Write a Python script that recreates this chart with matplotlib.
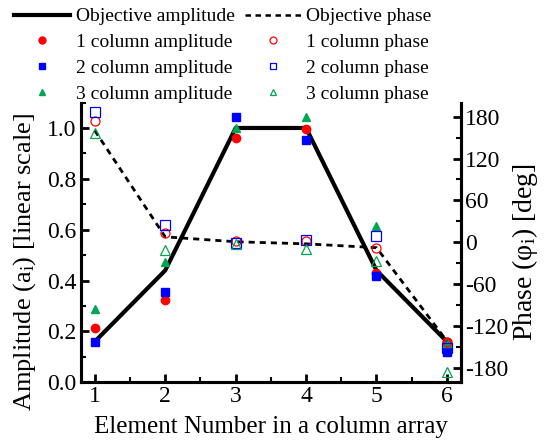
import matplotlib
matplotlib.use("Agg")
import matplotlib.pyplot as plt
from matplotlib.lines import Line2D
from matplotlib.ticker import MultipleLocator

plt.rcParams["font.family"] = ["Liberation Serif", "DejaVu Serif"]
plt.rcParams["mathtext.fontset"] = "custom"
plt.rcParams["mathtext.rm"] = "Liberation Serif"
plt.rcParams["mathtext.it"] = "Liberation Serif:italic"
plt.rcParams["axes.unicode_minus"] = False

elements = [1, 2, 3, 4, 5, 6]

# target excitation
objective_amplitude = [0.16, 0.44, 1.0, 1.0, 0.44, 0.16]
objective_phase = [160, 8, 1, -2, -7.5, -141]

# synthesized amplitudes
amp_1col = [0.212, 0.324, 0.962, 0.995, 0.43, 0.16]
amp_2col = [0.16, 0.356, 1.044, 0.952, 0.418, 0.12]
amp_3col = [0.287, 0.472, 0.998, 1.042, 0.615, 0.156]

# synthesized phases (deg)
phase_1col = [173, 13, 2.5, 2, -8.5, -142]
phase_2col = [186, 25, -1, 3.5, 9, -151]
phase_3col = [156, -11, -2, -9.5, -26.5, -185]

RED = "#ff0000"
BLUE = "#0000ff"
GREEN = "#00a651"

fig = plt.figure(figsize=(5.47, 4.42), dpi=100)
ax = fig.add_axes([0.1475, 0.135, 0.6953, 0.633])
ax2 = ax.twinx()

ax.plot(elements, objective_amplitude, color="black", lw=3.0, zorder=2)
ms = 6
ax.plot(elements, amp_1col, "o", color=RED, ms=ms, zorder=3, lw=0)
ax.plot(elements, amp_2col, "s", color=BLUE, ms=ms, zorder=3, lw=0)
ax.plot(elements, amp_3col, "^", color=GREEN, ms=ms, zorder=3, lw=0)

ax2.plot(elements, objective_phase, color="black", lw=2.0, ls=(0, (2.2, 1.8)), zorder=2)
ax2.plot(elements, phase_1col, "o", mfc="none", mec=RED, mew=0.9, ms=6.5, lw=0, zorder=3)
ax2.plot(elements, phase_2col, "s", mfc="none", mec=BLUE, mew=0.9, ms=6.5, lw=0, zorder=3)
ax2.plot(elements, phase_3col, "^", mfc="none", mec=GREEN, mew=0.9, ms=6.5, lw=0, zorder=3)

ax.set_xlim(0.8, 6.2)
ax.set_ylim(0, 1.1)
ax2.set_ylim(-200, 200)

ax.xaxis.set_major_locator(MultipleLocator(1))
ax.xaxis.set_minor_locator(MultipleLocator(0.5))
ax.yaxis.set_major_locator(MultipleLocator(0.2))
ax.yaxis.set_minor_locator(MultipleLocator(0.1))
ax.yaxis.set_major_formatter(matplotlib.ticker.FormatStrFormatter("%.1f"))
ax2.yaxis.set_major_locator(MultipleLocator(60))
ax2.yaxis.set_minor_locator(MultipleLocator(30))

for a in (ax, ax2):
    a.spines["top"].set_visible(False)
    for s in a.spines.values():
        s.set_linewidth(2.2)
    a.tick_params(which="major", direction="in", length=6, width=2, labelsize=17)
    a.tick_params(which="minor", direction="in", length=3.5, width=1.5)
ax.tick_params(axis="x", pad=3)
ax.tick_params(axis="y", pad=3)
ax2.tick_params(axis="y", pad=3)

ax.set_xlabel("Element Number in a column array", fontsize=18, labelpad=6)
fig.text(25 / 547, 1 - 262 / 442, "Amplitude (a$_{\\mathrm{i}}$) [linear scale]",
         fontsize=19, rotation=90, ha="center", va="center")
fig.text(525 / 547, 1 - 252 / 442, "Phase (\u03c6$_{\\mathrm{i}}$) [deg]",
         fontsize=20, rotation=90, ha="center", va="center")

handles = [
    Line2D([], [], color="black", lw=3.0),
    Line2D([], [], ls="none", marker="o", color=RED, ms=5),
    Line2D([], [], ls="none", marker="s", color=BLUE, ms=5),
    Line2D([], [], ls="none", marker="^", color=GREEN, ms=5),
    Line2D([], [], color="black", lw=1.8, ls=(0, (2.2, 1.8))),
    Line2D([], [], ls="none", marker="o", mfc="none", mec=RED, mew=0.9, ms=5),
    Line2D([], [], ls="none", marker="s", mfc="none", mec=BLUE, mew=0.9, ms=5),
    Line2D([], [], ls="none", marker="^", mfc="none", mec=GREEN, mew=0.9, ms=5),
]
labels = [
    "Objective amplitude", "1 column amplitude", "2 column amplitude", "3 column amplitude",
    "Objective phase", "1 column phase", "2 column phase", "3 column phase",
]
fig.legend(handles, labels, ncol=2, loc="upper left", bbox_to_anchor=(0.012, 1.0),
           frameon=False, fontsize=14, handlelength=2.85, handletextpad=0.3,
           columnspacing=0.55, labelspacing=0.42, borderaxespad=0.0)

fig.savefig("out.png", dpi=100)
